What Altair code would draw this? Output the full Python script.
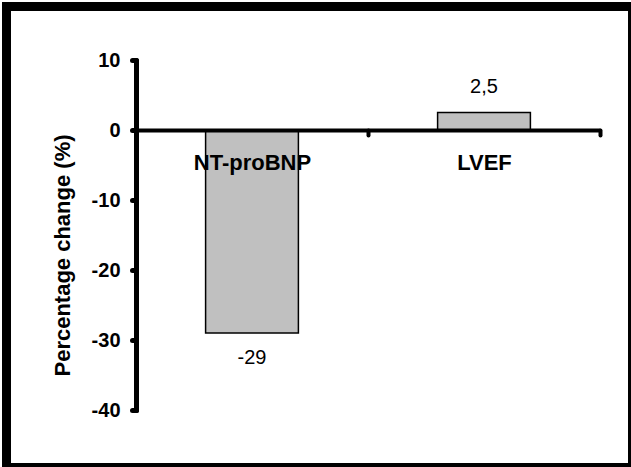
import altair as alt
import pandas as pd

categories = ["NT-proBNP", "LVEF"]
values = [-29, 2.5]
value_labels = ["-29", "2,5"]
y_ticks = [10, 0, -10, -20, -30, -40]

df = pd.DataFrame({"category": categories, "value": values, "label": value_labels})
frame = pd.DataFrame({"k": [0]})

FONT = "Liberation Sans"

x_enc = alt.X(
    "category:N", sort=categories, title=None,
    scale=alt.Scale(paddingInner=0, paddingOuter=0),
    axis=alt.Axis(
        orient="bottom", offset=-280, domainColor="black", domainWidth=4,
        tickColor="black", tickWidth=4, tickSize=5, tickBand="extent", tickCap="round",
        labelAngle=0, labelFont=FONT, labelFontSize=22, labelFontWeight="bold",
        labelColor="black", labelBaseline="alphabetic", labelPadding=34, zindex=1,
    ),
)
y_enc = alt.Y(
    "value:Q",
    scale=alt.Scale(domain=[-40, 10], nice=False, zero=True),
    axis=alt.Axis(
        values=y_ticks, title="Percentage change (%)", grid=False,
        domainColor="black", domainWidth=5, domainCap="round",
        tickColor="black", tickWidth=5, tickSize=4, tickCap="round",
        labelFont=FONT, labelFontSize=20, labelFontWeight="bold", labelColor="black",
        labelPadding=12, labelExpr="'' + datum.value",
        titleFont=FONT, titleFontSize=22, titleFontWeight="bold", titleColor="black",
        titleX=-67, titleY=195, titleBaseline="alphabetic", zindex=1,
    ),
)

outer = alt.Chart(frame).mark_rect(color="black").encode(
    x=alt.value(-134), x2=alt.value(495), y=alt.value(-58), y2=alt.value(407)
)
inner = alt.Chart(frame).mark_rect(color="white").encode(
    x=alt.value(-125), x2=alt.value(492), y=alt.value(-49), y2=alt.value(403)
)

bars = alt.Chart(df).mark_bar(
    color="#c0c0c0", stroke="black", strokeWidth=1.5, width={"band": 0.4}
).encode(x=x_enc, y=y_enc)

text_pos = alt.Chart(df).transform_filter("datum.value >= 0").mark_text(
    font=FONT, fontSize=20, color="black", baseline="alphabetic", dy=-20
).encode(x=alt.X("category:N", sort=categories), y="value:Q", text="label:N")

text_neg = alt.Chart(df).transform_filter("datum.value < 0").mark_text(
    font=FONT, fontSize=20, color="black", baseline="alphabetic", dy=31
).encode(x=alt.X("category:N", sort=categories), y="value:Q", text="label:N")

chart = alt.layer(outer, inner, bars, text_pos, text_neg).properties(
    width=464, height=350,
    padding={"left": 136, "top": 60, "right": 31, "bottom": 57},
    autosize="none", background="white",
).configure_view(stroke=None)

chart.save("out.html", embed_options={"renderer": "svg", "actions": False})
